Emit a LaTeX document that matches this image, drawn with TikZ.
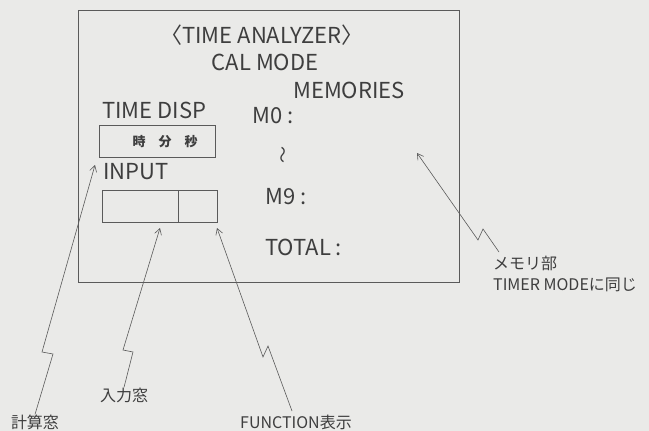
\documentclass[tikz,border=0pt]{standalone}
\usepackage{fontspec}
\newfontfamily\jpfont{Noto Sans CJK JP}
\usetikzlibrary{arrows.meta}
\definecolor{paper}{RGB}{234,234,232}
\definecolor{ink}{RGB}{62,62,62}
\definecolor{wire}{RGB}{90,90,90}

\begin{document}
\begin{tikzpicture}[x=1pt,y=-1pt,
    big/.style={text=ink,font=\jpfont\fontsize{22}{24}\selectfont,inner sep=0pt},
    note/.style={text=ink,font=\jpfont\fontsize{16}{18}\selectfont,inner sep=0pt},
    cell/.style={draw=wire,line width=0.7pt,minimum height=32pt,inner sep=0pt},
    pointer/.style={draw=wire,line width=0.6pt,-{Straight Barb[length=6pt,width=7pt]}}]
  \fill[paper] (0,0) rectangle (649,431);
  \useasboundingbox (0,0) rectangle (649,431);

  % screen of the CAL mode
  \draw[wire,line width=0.8pt] (78,10) rectangle (459,282);
  \node[big] (title) at (262,35) {〈TIME ANALYZER〉};
  \node[big] (calmode) at (265,62) {CAL MODE};
  \node[big] (memories) at (349,90) {MEMORIES};
  \node[big,anchor=west] (timedisp) at (102,110) {TIME DISP};
  \node[big,anchor=west] (mzero) at (252,116) {M0 :};
  \node[big,rotate=90] (mdots) at (285,155) {\fontsize{17}{17}\selectfont 〜};
  \node[big,anchor=west] (mnine) at (265,197) {M9 :};
  \node[big,anchor=west] (total) at (265,247) {TOTAL :};

  \node[cell,minimum width=116pt] (timebox) at (157,141) {};
  \node[text=ink,font=\jpfont\bfseries\fontsize{13}{13}\selectfont,inner sep=0pt]
    (hms) at (165,142) {時\hspace{13pt}分\hspace{13pt}秒};
  \node[big,anchor=west] (input) at (103,172) {INPUT};
  \node[cell,minimum width=76pt] (inval) at (140,206) {};
  \node[cell,minimum width=39pt] (infunc) at (197.5,206) {};

  % callouts
  \node[note] (calclbl) at (35,422) {計算窓};
  \node[note] (inlbl) at (124,395) {入力窓};
  \node[note,anchor=west] (funclbl) at (240,422) {FUNCTION表示};
  \node[note,anchor=west] (memlbl) at (493,263) {メモリ部};
  \node[note,anchor=west] (samelbl) at (493,285) {TIMER MODEに同じ};

  \coordinate (calctip) at (95,165);
  \coordinate (intip) at (160,228);
  \coordinate (functip) at (217,228);
  \coordinate (memtip) at (417,153);

  \draw[pointer] (calclbl.north) -- (53,354) -- (42,352) -- (calctip);
  \draw[pointer] (inlbl.north) -- (133,352) -- (123,350) -- (intip);
  \draw[pointer] (292,411) -- (268,346) -- (263,357) -- (functip);
  \draw[pointer] (499,252) -- (483,229) -- (478,240) -- (memtip);
\end{tikzpicture}
\end{document}
